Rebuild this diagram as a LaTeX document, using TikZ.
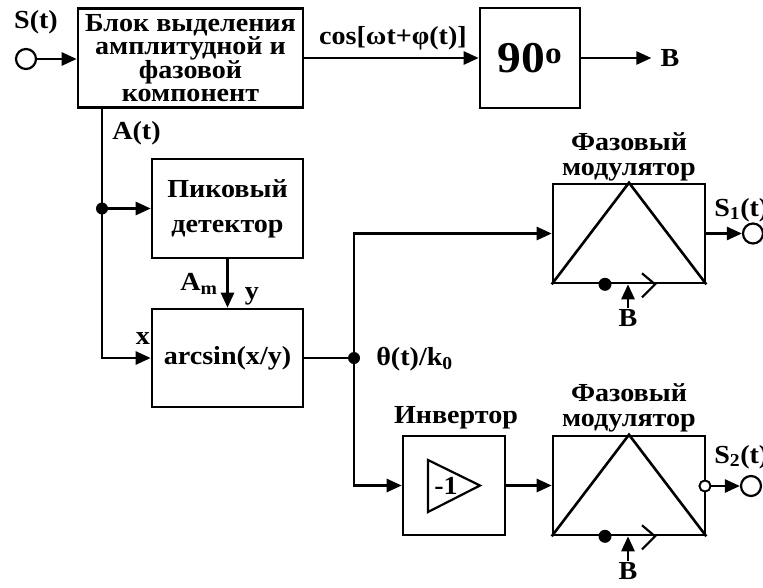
\documentclass[tikz,border=0pt]{standalone}
\usepackage{fontspec}
\setmainfont{Liberation Serif}[FakeStretch=1.08]
\usetikzlibrary{arrows.meta,calc}
\begin{document}
\begin{tikzpicture}[x=1pt,y=-1pt,
  line width=2.6pt,
  every node/.style={font=\bfseries\fontsize{26}{22}\selectfont, inner sep=0pt},
  blk/.style={draw, line width=2.6pt, align=center},
  arr/.style={-{Triangle[length=15pt,width=13pt]}},
  term/.style={draw, circle, minimum size=20pt, line width=2.2pt},
  oring/.style={draw, circle, fill=white, minimum size=11pt, line width=1.8pt}
]
\useasboundingbox (0,0) rectangle (763,587);
% blocks
\node[blk, minimum width=225pt, minimum height=99pt, font=\bfseries\fontsize{26}{23}\selectfont] (b1) at (190.5,58) {Блок выделения\\амплитудной и\\фазовой\\компонент};
\node[blk, minimum width=100pt, minimum height=100pt, font=\bfseries\fontsize{44}{44}\selectfont] (b90) at (530,58) {90\textsuperscript{o}};
\node[blk, minimum width=151pt, minimum height=99pt, font=\bfseries\fontsize{26}{35}\selectfont] (pk) at (227.5,208.5) {Пиковый\\детектор};
\node[blk, minimum width=151pt, minimum height=98pt] (as) at (227.5,358) {arcsin(x/y)};
\node[blk, minimum width=152pt, minimum height=99pt] (pm1) at (629,233.5) {};
\node[blk, minimum width=102pt, minimum height=99pt] (inv) at (454,485.5) {};
\node[blk, minimum width=152pt, minimum height=99pt] (pm2) at (629,485.5) {};
% terminals
\node[term] (sin) at (26,59) {};
\node[term] (s1) at (753,233.5) {};
\node[term] (s2) at (751,486) {};
\node[oring] (oc) at (705,486) {};
% labels
\node (lS) at (36,22) {S(t)};
\node (lcos) at (393,38) {cos[ωt+φ(t)]};
\node (lB) at (670,58) {B};
\node[anchor=west] (lA) at (111,133) {A(t)};
\node (lAm) at (199,284) {A\textsubscript{m}};
\node (ly) at (252,296) {y};
\node (lx) at (143,339) {x};
\node[anchor=west] (lth) at (375,359) {θ(t)/k\textsubscript{0}};
\node (lpm1) at (629,157) [align=center, font=\bfseries\fontsize{26}{25}\selectfont] {Фазовый\\модулятор};
\node (lpm2) at (629,408) [align=center, font=\bfseries\fontsize{26}{25}\selectfont] {Фазовый\\модулятор};
\node (linv) at (456,418) {Инвертор};
\node[anchor=west] (lS1) at (713,210) {S\textsubscript{1}(t)};
\node[anchor=west] (lS2) at (713,457) {S\textsubscript{2}(t)};
\node (lB1) at (628,318) {B};
\node (lB2) at (628,571) {B};
% junctions
\coordinate (jA) at (102,208.5);
\coordinate (jX) at (102,358);
\coordinate (jT) at (354,358);
% connectors
\draw[arr] (sin) -- (b1.west |- sin);
\draw[arr] (b1.east) -- (b90.west);
\draw[arr] (b90.east) -- ($(lB.west)+(-8,0)$);
\draw[arr] (b1.south -| jA) -- (jX) -- (as.west);
\draw[arr] (jA) -- (pk.west);
\draw[arr] (pk.south) -- (as.north);
\draw (as.east) -- (jT);
\draw[arr] (jT) |- (pm1.west);
\draw[arr] (jT) |- (inv.west);
\draw[arr] (inv.east) -- (pm2.west);
\draw[arr] (pm1.east) -- (s1.west);
\draw[arr] (oc.east) -- (s2.west);
\fill (jA) circle (6pt);
\fill (jT) circle (6pt);
% phase modulators interior
\foreach \p/\b in {pm1/lB1, pm2/lB2}{
  \draw (\p.south west) -- (\p.north) -- (\p.south east);
  \fill ($(\p.south)+(-24,0)$) circle (6.5pt);
  \draw[line width=2.2pt] ($(\p.south)+(13,-11)$) -- ($(\p.south)+(26,0)$) -- ($(\p.south)+(13,13)$);
  \draw[arr] (\b.north) -- (\b.north |- \p.south);
}
\node[oring] at (705,486) {};
% inverter triangle
\draw[line width=2.2pt] ($(inv.center)+(-26,-25.5)$) -- ($(inv.center)+(26,0)$) -- ($(inv.center)+(-26,26.5)$) -- cycle;
\node (lm1) at ($(inv.center)+(-8,0)$) {-1};
\end{tikzpicture}
\end{document}
